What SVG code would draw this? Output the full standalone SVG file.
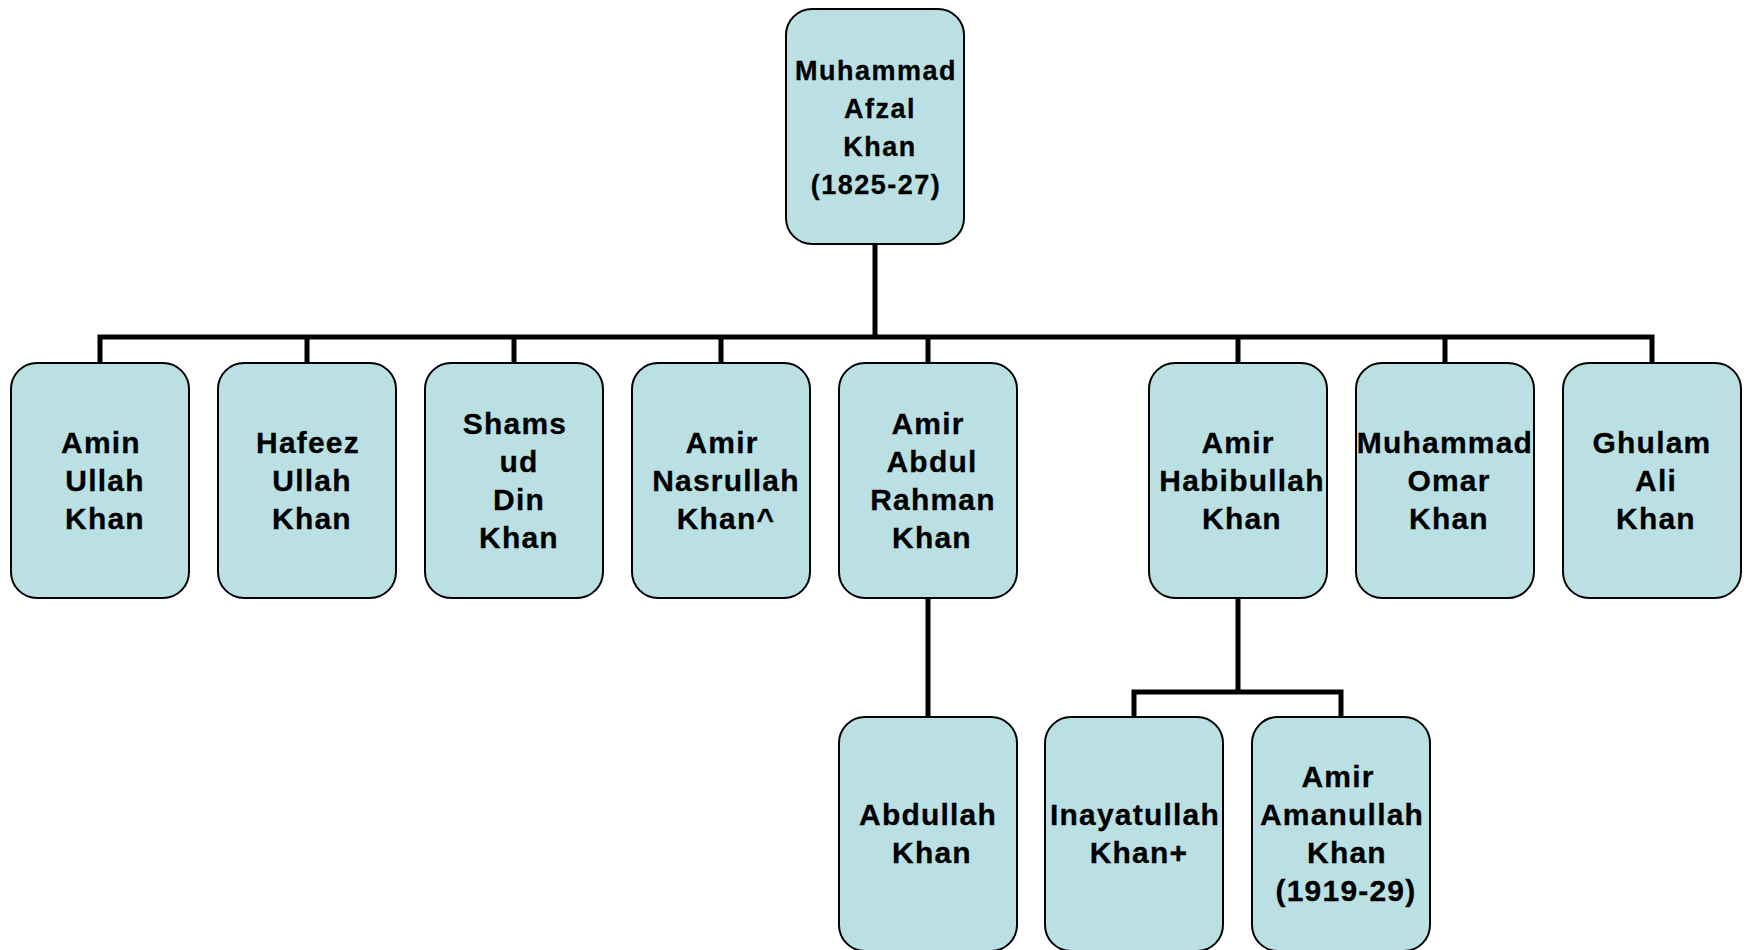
<svg xmlns="http://www.w3.org/2000/svg" width="1744" height="950" viewBox="0 0 1744 950">
<style>
.box{fill:#BBE0E3;stroke:#000;stroke-width:2}
.t{font-family:"Liberation Sans",Arial,sans-serif;font-weight:bold;font-size:30px;letter-spacing:1.2px;fill:#000;stroke:#000;stroke-width:0.3;text-anchor:middle}
.tt{font-size:27px;letter-spacing:1.5px}
.c{fill:none;stroke:#000;stroke-width:5;stroke-linejoin:miter}
</style>
<rect width="1744" height="950" fill="#fff"/>
<g id="connectors">
<path class="c" d="M875 245V337"/>
<path class="c" d="M100 363V337H1652V363"/>
<path class="c" d="M307 337V363M514 337V363M721 337V363M928 337V363M1238 337V363M1445 337V363"/>
<path class="c" d="M928 598V717"/>
<path class="c" d="M1238 598V692"/>
<path class="c" d="M1134 717V692H1341V717"/>
</g>
<g id="n-afzal"><rect class="box" x="786" y="9" width="178" height="235" rx="26"/>
<text class="t tt"><tspan x="876" y="80">Muhammad</tspan><tspan x="880" y="118">Afzal</tspan><tspan x="880" y="156">Khan</tspan><tspan x="876" y="194">(1825-27)</tspan></text></g>
<g id="n-amin"><rect class="box" x="11" y="363" width="178" height="235" rx="26"/>
<text class="t"><tspan x="101" y="453">Amin</tspan><tspan x="105" y="491">Ullah</tspan><tspan x="105" y="529">Khan</tspan></text></g>
<g id="n-hafeez"><rect class="box" x="218" y="363" width="178" height="235" rx="26"/>
<text class="t"><tspan x="308" y="453">Hafeez</tspan><tspan x="312" y="491">Ullah</tspan><tspan x="312" y="529">Khan</tspan></text></g>
<g id="n-shams"><rect class="box" x="425" y="363" width="178" height="235" rx="26"/>
<text class="t"><tspan x="515" y="434">Shams</tspan><tspan x="519" y="472">ud</tspan><tspan x="519" y="510">Din</tspan><tspan x="519" y="548">Khan</tspan></text></g>
<g id="n-nasrullah"><rect class="box" x="632" y="363" width="178" height="235" rx="26"/>
<text class="t"><tspan x="722" y="453">Amir</tspan><tspan x="726" y="491">Nasrullah</tspan><tspan x="726" y="529">Khan^</tspan></text></g>
<g id="n-rahman"><rect class="box" x="839" y="363" width="178" height="235" rx="26"/>
<text class="t"><tspan x="928" y="434">Amir</tspan><tspan x="932" y="472">Abdul</tspan><tspan x="933" y="510">Rahman</tspan><tspan x="932" y="548">Khan</tspan></text></g>
<g id="n-habibullah"><rect class="box" x="1149" y="363" width="178" height="235" rx="26"/>
<text class="t"><tspan x="1238" y="453">Amir</tspan><tspan x="1242" y="491">Habibullah</tspan><tspan x="1242" y="529">Khan</tspan></text></g>
<g id="n-omar"><rect class="box" x="1356" y="363" width="178" height="235" rx="26"/>
<text class="t"><tspan x="1445" y="453">Muhammad</tspan><tspan x="1449" y="491">Omar</tspan><tspan x="1449" y="529">Khan</tspan></text></g>
<g id="n-ghulam"><rect class="box" x="1563" y="363" width="178" height="235" rx="26"/>
<text class="t"><tspan x="1652" y="453">Ghulam</tspan><tspan x="1656" y="491">Ali</tspan><tspan x="1656" y="529">Khan</tspan></text></g>
<g id="n-abdullah"><rect class="box" x="839" y="717" width="178" height="234" rx="26"/>
<text class="t"><tspan x="928" y="825">Abdullah</tspan><tspan x="932" y="863">Khan</tspan></text></g>
<g id="n-inayatullah"><rect class="box" x="1045" y="717" width="178" height="234" rx="26"/>
<text class="t"><tspan x="1135" y="825">Inayatullah</tspan><tspan x="1139" y="863">Khan+</tspan></text></g>
<g id="n-amanullah"><rect class="box" x="1252" y="717" width="178" height="234" rx="26"/>
<text class="t"><tspan x="1338" y="787">Amir</tspan><tspan x="1342" y="825">Amanullah</tspan><tspan x="1347" y="863">Khan</tspan><tspan x="1346" y="901">(1919-29)</tspan></text></g>
</svg>
